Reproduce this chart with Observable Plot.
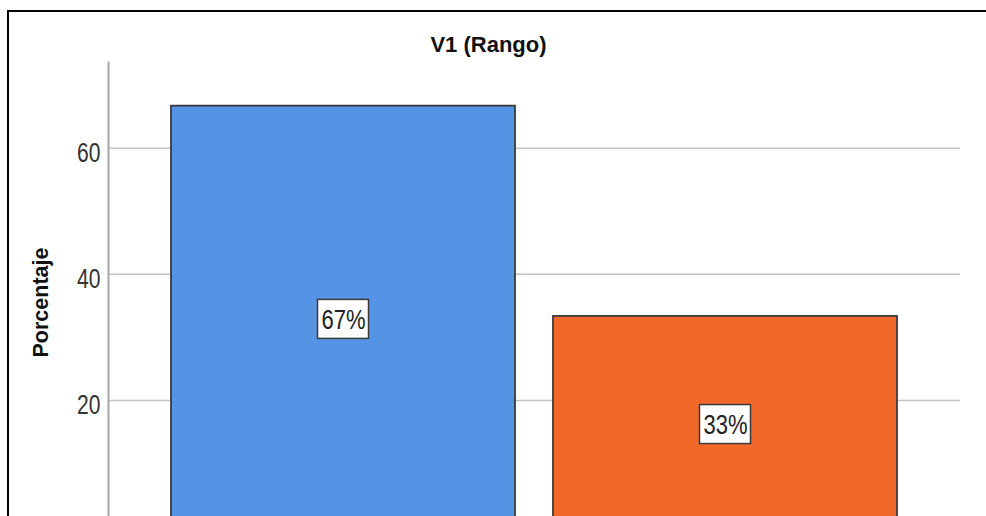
<!DOCTYPE html>
<html>
<head>
<meta charset="utf-8">
<script src="https://cdn.jsdelivr.net/npm/d3@7"></script>
<script src="https://cdn.jsdelivr.net/npm/@observablehq/plot@0.6"></script>
<style>
  html, body { margin: 0; padding: 0; background: #fff; overflow: hidden; width: 986px; height: 516px; }
  #chart { position: absolute; left: 0; top: 0; }
  #border { position: absolute; left: 7px; top: 10px; width: 1000px; height: 520px; border: 2px solid #000; box-sizing: border-box; pointer-events: none; }
</style>
</head>
<body>
<div id="chart"></div>
<div id="border"></div>
<script>
const categories = ["Categoría 1", "Categoría 2"];
const percentages = [66.67, 33.33];
const valueLabels = ["67%", "33%"];
const yTicks = [20, 40, 60];
const barColors = ["#5594E4", "#F2682B"];
const chartTitle = "V1 (Rango)";
const yLabel = "Porcentaje";

const data = categories.map((c, i) => ({cat: c, value: percentages[i], label: valueLabels[i]}));

const sans = "'Liberation Sans', Arial, Helvetica, sans-serif";

const chart = Plot.plot({
  width: 986,
  height: 516,
  marginLeft: 108,
  marginRight: 26,
  marginTop: 62,
  marginBottom: 0,
  style: {background: "transparent", fontFamily: sans},
  x: {domain: categories, paddingInner: 0.0992, paddingOuter: 0.162, axis: null},
  y: {domain: [1.61, 73.59], axis: null},
  color: {domain: categories, range: barColors},
  marks: [
    Plot.gridY(yTicks, {stroke: "#c4c4c4", strokeOpacity: 1, strokeWidth: 1.5}),
    Plot.axisY(yTicks, {tickSize: 0, tickPadding: 8, fontSize: 27, fill: "#333", dy: 5, label: null}),
    Plot.frame({anchor: "left", stroke: "#a6a6a6", strokeWidth: 2}),
    Plot.barY(data, {x: "cat", y: "value", fill: "cat", stroke: "#3a3a3a", strokeWidth: 1.8, clip: true}),
    Plot.barY(data, {x: "cat", y1: d => d.value / 2, y2: d => d.value / 2, fill: "#fff", stroke: "#3a3a3a", strokeWidth: 1.5,
      insetLeft: 146.5, insetRight: 146.5, insetTop: -16.5, insetBottom: -22.5}),
    Plot.text(data, {x: "cat", y: d => d.value / 2, text: "label", dy: 3.5, fontSize: 27, fill: "#222"}),
    Plot.text([chartTitle], {frameAnchor: "top", lineAnchor: "middle", dx: -46, dy: -17.4, fontSize: 22, fontWeight: "bold", fill: "#111"}),
    Plot.text([yLabel], {frameAnchor: "left", textAnchor: "middle", lineAnchor: "middle", rotate: -90, dx: -67.5, dy: 13, fontSize: 21.5, fontWeight: "bold", fill: "#111"})
  ]
});
document.getElementById("chart").appendChild(chart);

// condense the numeric labels horizontally (the original uses a narrow face)
function squeeze(selector, k) {
  chart.querySelectorAll(selector).forEach(t => {
    const len = t.getComputedTextLength();
    t.setAttribute("textLength", (len * k).toFixed(2));
    t.setAttribute("lengthAdjust", "spacingAndGlyphs");
  });
}
squeeze('g[aria-label="y-axis tick label"] text', 0.78);
squeeze('g[aria-label="text"][font-size="27"] text', 0.815);
</script>
</body>
</html>
